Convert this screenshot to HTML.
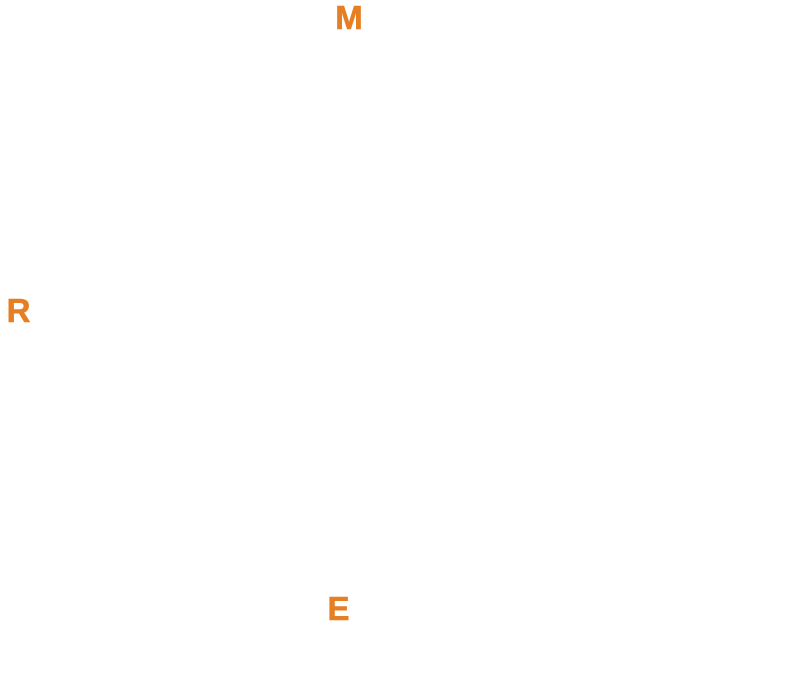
<!DOCTYPE html>
<html>
<head>
<meta charset="utf-8">
<style>
  html, body { margin: 0; padding: 0; background: #ffffff; }
  body { width: 785px; height: 699px; overflow: hidden; }
  svg { display: block; }
  text { font-family: "Liberation Sans", "DejaVu Sans", sans-serif; font-weight: bold; font-size: 33px; fill: #E67E22; stroke: #E67E22; stroke-width: 0.6px; }
</style>
</head>
<body>
<svg width="785" height="699" viewBox="0 0 785 699" xmlns="http://www.w3.org/2000/svg">
  <rect x="0" y="0" width="785" height="699" fill="#ffffff" stroke="none"/>
  <text x="349" y="29" text-anchor="middle">M</text>
  <text x="18.5" y="322" text-anchor="middle">R</text>
  <text x="338.5" y="620" text-anchor="middle">E</text>
</svg>
</body>
</html>
